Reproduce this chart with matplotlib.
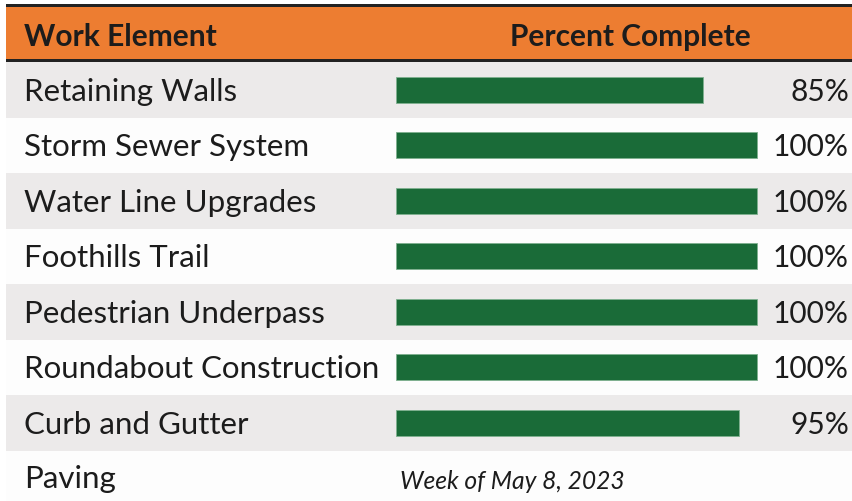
import matplotlib.pyplot as plt
from matplotlib.patches import Rectangle

# table contents
elements = ['Retaining Walls', 'Storm Sewer System', 'Water Line Upgrades',
            'Foothills Trail', 'Pedestrian Underpass', 'Roundabout Construction',
            'Curb and Gutter']
percent = [85, 100, 100, 100, 100, 100, 95]
last_row = 'Paving'
last_note = 'Week of May 8, 2023'
headers = ['Work Element', 'Percent Complete']

orange = '#ED7D31'
green = '#1A6B38'
gray_row = '#ECEAEA'
white_row = '#FDFDFD'
txt = '#1C1C1C'

plt.rcParams['font.family'] = ['Lato', 'DejaVu Sans']

W, H = 852, 502
fig = plt.figure(figsize=(W / 100, H / 100), dpi=100)
ax = fig.add_axes([0, 0, 1, 1])
ax.set_xlim(0, W)
ax.set_ylim(H, 0)
ax.axis('off')

left = 6
top = 63
row_h = 55.5
bar_x0 = 396
px_per_pct = 3.61

# header band
ax.add_patch(Rectangle((left, 4.5), W - left, 3, color='#222222', lw=0))
ax.add_patch(Rectangle((left, 7.5), W - left, 52.5, color=orange, lw=0))
ax.add_patch(Rectangle((left, 60), W - left, 3.5, color='#222222', lw=0))
ax.text(24, 37, headers[0], fontsize=21.5, fontweight='bold', color=txt, va='center')
ax.text(630, 37, headers[1], fontsize=21.5, fontweight='bold', color=txt, va='center', ha='center')

# rows
n = len(elements) + 1
for i in range(n):
    y0 = top + i * row_h
    ax.add_patch(Rectangle((left, y0), W - left, row_h,
                           color=gray_row if i % 2 == 0 else white_row, lw=0))

centers = [top + (i + 0.5) * row_h for i in range(len(elements))]
ax.barh(centers, [p * px_per_pct for p in percent], left=bar_x0, height=26,
        color=green, edgecolor='#7FB08F', linewidth=0.6)

for c, name, p in zip(centers, elements, percent):
    ax.text(24, c + 1, name, fontsize=22.5, color=txt, va='center')
    ax.text(849, c + 1, f'{p}%', fontsize=21.5, color=txt, va='center', ha='right')

c_last = top + (n - 0.5) * row_h
ax.text(24, c_last, last_row, fontsize=22.5, color=txt, va='center')
ax.text(400, c_last + 2, last_note, fontsize=17.7, style='italic', color=txt, va='center')

fig.savefig('out.png', dpi=100)
